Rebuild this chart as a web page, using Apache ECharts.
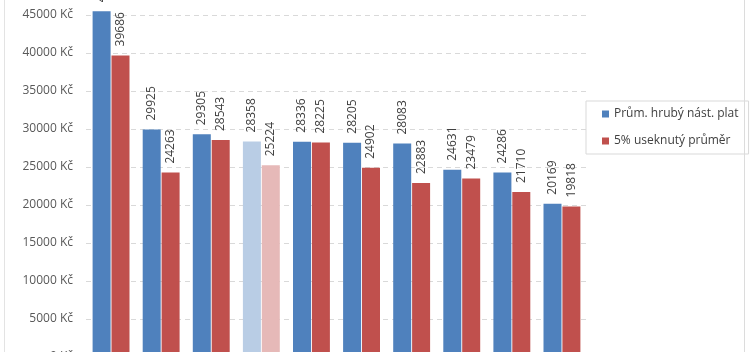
<!DOCTYPE html>
<html>
<head>
<meta charset="utf-8">
<script src="https://cdn.jsdelivr.net/npm/echarts@6/dist/echarts.min.js"></script>
<style>
  html, body { margin: 0; padding: 0; background: #fff; }
  #wrap { position: relative; width: 750px; height: 352px; overflow: hidden; }
  #chart { width: 750px; height: 352px; }
  #frame {
    position: absolute; left: 4px; top: 0; width: 739px; height: 352px;
    border-left: 1px solid #e3e3e3; border-right: 1px solid #dcdcdc;
    pointer-events: none;
  }
</style>
</head>
<body>
<div id="wrap">
  <div id="chart"></div>
  <div id="frame"></div>
</div>
<script>
// categories are below the visible crop, so their labels are hidden
const categories = ["1", "2", "3", "4", "5", "6", "7", "8", "9", "10"];
const avgWage = [45500, 29925, 29305, 28358, 28336, 28205, 28083, 24631, 24286, 20169];
const trimmedMean = [39686, 24263, 28543, 25224, 28225, 24902, 22883, 23479, 21710, 19818];
const seriesNames = ["Prům. hrubý nást. plat", "5% useknutý průměr"];
const highlightIndex = 3;

const BLUE = "#4f81bd";
const RED = "#c0504d";
const BLUE_LIGHT = "#b9cde5";
const RED_LIGHT = "#e6b9b8";

function toItems(values, lightColor) {
  return values.map((v, i) =>
    i === highlightIndex ? { value: v, itemStyle: { color: lightColor } } : v
  );
}

const labelStyle = {
  show: true,
  position: "top",
  rotate: 90,
  align: "left",
  verticalAlign: "middle",
  distance: 9,
  color: "#404040",
  fontSize: 12,
  fontFamily: "Open Sans",
};

const chart = echarts.init(document.getElementById("chart"), null, { renderer: "canvas" });

chart.setOption({
  animation: false,
  backgroundColor: "#fff",
  textStyle: { fontFamily: "Open Sans" },
  grid: { left: 86, right: 163, top: -23, height: 380, containLabel: false, outerBoundsMode: "none" },
  legend: {
    orient: "vertical",
    left: 586,
    top: 101,
    padding: [7, 10, 7, 16],
    itemGap: 15,
    itemWidth: 7,
    itemHeight: 7,
    icon: "rect",
    borderColor: "#d9d9d9",
    borderWidth: 1,
    textStyle: { color: "#404040", fontSize: 12, fontFamily: "Open Sans" },
    data: seriesNames,
  },
  xAxis: {
    type: "category",
    data: categories,
    axisLine: { show: false },
    axisTick: { show: false },
    axisLabel: { show: false },
  },
  yAxis: {
    type: "value",
    min: 0,
    max: 50000,
    interval: 5000,
    axisLine: { show: false },
    axisTick: { show: false },
    axisLabel: {
      margin: 13,
      color: "#595959",
      fontSize: 12,
      fontFamily: "Open Sans",
      formatter: (v) => v + " Kč",
    },
    splitLine: { lineStyle: { color: "#d9d9d9", type: [5, 4] } },
  },
  series: [
    {
      name: seriesNames[0],
      type: "bar",
      barWidth: 18,
      barGap: "5%",
      itemStyle: { color: BLUE },
      label: labelStyle,
      data: toItems(avgWage, BLUE_LIGHT),
    },
    {
      name: seriesNames[1],
      type: "bar",
      barWidth: 18,
      itemStyle: { color: RED },
      label: labelStyle,
      data: toItems(trimmedMean, RED_LIGHT),
    },
  ],
});
</script>
</body>
</html>
